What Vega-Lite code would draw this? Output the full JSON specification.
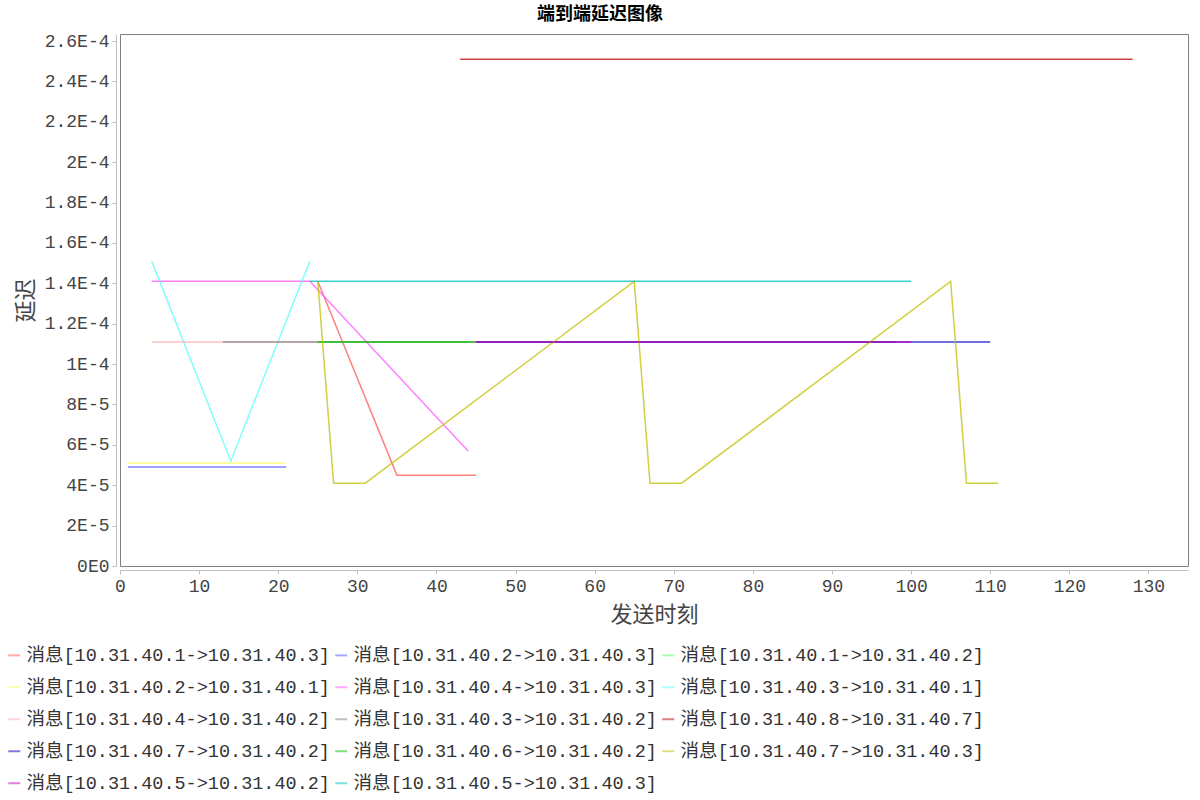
{
  "$schema": "https://vega.github.io/schema/vega-lite/v6.json",
  "autosize": {"type": "none"},
  "width": 1068,
  "height": 532,
  "padding": {"left": 120, "top": 34, "right": 12, "bottom": 234},
  "background": "white",
  "title": {
    "text": "端到端延迟图像",
    "font": "Noto Sans CJK SC",
    "fontSize": 18,
    "fontWeight": "bold",
    "color": "#000000",
    "anchor": "middle",
    "dx": -54,
    "offset": 8
  },
  "config": {
    "view": {"stroke": "#808080", "strokeWidth": 1},
    "axis": {
      "grid": false,
      "domainColor": "#c0c0c0",
      "tickColor": "#c0c0c0",
      "tickSize": 4,
      "labelFont": "Liberation Mono",
      "labelFontSize": 18,
      "labelColor": "#444444",
      "titleFont": "Noto Sans CJK SC",
      "titleFontSize": 22,
      "titleFontWeight": "normal",
      "titleColor": "#444444",
      "offset": 4
    }
  },
  "data": {
    "values": [
      {"series": "消息[10.31.40.1->10.31.40.3]", "x": 25, "y": 0.000141},
      {"series": "消息[10.31.40.1->10.31.40.3]", "x": 35, "y": 0.000045},
      {"series": "消息[10.31.40.1->10.31.40.3]", "x": 45, "y": 0.000045},
      {"series": "消息[10.31.40.2->10.31.40.3]", "x": 1, "y": 0.000049},
      {"series": "消息[10.31.40.2->10.31.40.3]", "x": 11, "y": 0.000049},
      {"series": "消息[10.31.40.2->10.31.40.3]", "x": 21, "y": 0.000049},
      {"series": "消息[10.31.40.1->10.31.40.2]", "x": 25, "y": 0.000111},
      {"series": "消息[10.31.40.1->10.31.40.2]", "x": 44, "y": 0.000111},
      {"series": "消息[10.31.40.2->10.31.40.1]", "x": 1, "y": 0.000051},
      {"series": "消息[10.31.40.2->10.31.40.1]", "x": 11, "y": 0.000051},
      {"series": "消息[10.31.40.2->10.31.40.1]", "x": 21, "y": 0.000051},
      {"series": "消息[10.31.40.4->10.31.40.3]", "x": 4, "y": 0.000141},
      {"series": "消息[10.31.40.4->10.31.40.3]", "x": 24, "y": 0.000141},
      {"series": "消息[10.31.40.4->10.31.40.3]", "x": 44, "y": 0.000057},
      {"series": "消息[10.31.40.3->10.31.40.1]", "x": 4, "y": 0.000151},
      {"series": "消息[10.31.40.3->10.31.40.1]", "x": 14, "y": 0.000052},
      {"series": "消息[10.31.40.3->10.31.40.1]", "x": 24, "y": 0.000151},
      {"series": "消息[10.31.40.4->10.31.40.2]", "x": 4, "y": 0.000111},
      {"series": "消息[10.31.40.4->10.31.40.2]", "x": 25, "y": 0.000111},
      {"series": "消息[10.31.40.3->10.31.40.2]", "x": 13, "y": 0.000111},
      {"series": "消息[10.31.40.3->10.31.40.2]", "x": 98, "y": 0.000111},
      {"series": "消息[10.31.40.8->10.31.40.7]", "x": 43, "y": 0.000251},
      {"series": "消息[10.31.40.8->10.31.40.7]", "x": 128, "y": 0.000251},
      {"series": "消息[10.31.40.7->10.31.40.2]", "x": 45, "y": 0.000111},
      {"series": "消息[10.31.40.7->10.31.40.2]", "x": 110, "y": 0.000111},
      {"series": "消息[10.31.40.6->10.31.40.2]", "x": 25, "y": 0.000111},
      {"series": "消息[10.31.40.6->10.31.40.2]", "x": 45, "y": 0.000111},
      {"series": "消息[10.31.40.7->10.31.40.3]", "x": 25, "y": 0.000141},
      {"series": "消息[10.31.40.7->10.31.40.3]", "x": 27, "y": 0.000041},
      {"series": "消息[10.31.40.7->10.31.40.3]", "x": 31, "y": 0.000041},
      {"series": "消息[10.31.40.7->10.31.40.3]", "x": 65, "y": 0.000141},
      {"series": "消息[10.31.40.7->10.31.40.3]", "x": 67, "y": 0.000041},
      {"series": "消息[10.31.40.7->10.31.40.3]", "x": 71, "y": 0.000041},
      {"series": "消息[10.31.40.7->10.31.40.3]", "x": 105, "y": 0.000141},
      {"series": "消息[10.31.40.7->10.31.40.3]", "x": 107, "y": 0.000041},
      {"series": "消息[10.31.40.7->10.31.40.3]", "x": 111, "y": 0.000041},
      {"series": "消息[10.31.40.5->10.31.40.2]", "x": 45, "y": 0.000111},
      {"series": "消息[10.31.40.5->10.31.40.2]", "x": 100, "y": 0.000111},
      {"series": "消息[10.31.40.5->10.31.40.3]", "x": 24, "y": 0.000141},
      {"series": "消息[10.31.40.5->10.31.40.3]", "x": 100, "y": 0.000141}
    ]
  },
  "mark": {"type": "line", "strokeWidth": 1.5, "opacity": 0.75},
  "encoding": {
    "x": {
      "field": "x",
      "type": "quantitative",
      "title": "发送时刻",
      "scale": {"domain": [0, 135], "nice": false},
      "axis": {
        "values": [0, 10, 20, 30, 40, 50, 60, 70, 80, 90, 100, 110, 120, 130],
        "labelFlush": false,
        "labelPadding": 3,
        "titlePadding": 9
      }
    },
    "y": {
      "field": "y",
      "type": "quantitative",
      "title": "延迟",
      "scale": {"domain": [0, 0.0002635], "nice": false},
      "axis": {
        "values": [0, 0.00002, 0.00004, 0.00006, 0.00008, 0.0001, 0.00012, 0.00014, 0.00016, 0.00018, 0.0002, 0.00022, 0.00024, 0.00026],
        "labelExpr": "datum.value == 0 ? '0E0' : (round(datum.value / pow(10, floor(log(datum.value) / LN10 + 1e-9)) * 10) / 10) + 'E' + floor(log(datum.value) / LN10 + 1e-9)",
        "labelPadding": 3,
        "titlePadding": 7
      }
    },
    "color": {
      "field": "series",
      "type": "nominal",
      "scale": {
        "domain": [
          "消息[10.31.40.1->10.31.40.3]", "消息[10.31.40.2->10.31.40.3]", "消息[10.31.40.1->10.31.40.2]",
          "消息[10.31.40.2->10.31.40.1]", "消息[10.31.40.4->10.31.40.3]", "消息[10.31.40.3->10.31.40.1]",
          "消息[10.31.40.4->10.31.40.2]", "消息[10.31.40.3->10.31.40.2]", "消息[10.31.40.8->10.31.40.7]",
          "消息[10.31.40.7->10.31.40.2]", "消息[10.31.40.6->10.31.40.2]", "消息[10.31.40.7->10.31.40.3]",
          "消息[10.31.40.5->10.31.40.2]", "消息[10.31.40.5->10.31.40.3]"
        ],
        "range": [
          "#ff5555", "#5555ff", "#55ff55",
          "#ffff55", "#ff55ff", "#55ffff",
          "#ffafaf", "#808080", "#c00000",
          "#0000c0", "#00c000", "#c0c000",
          "#c000c0", "#00c0c0"
        ]
      },
      "legend": {
        "title": null,
        "orient": "none",
        "legendX": -115,
        "legendY": 612,
        "direction": "horizontal",
        "columns": 3,
        "symbolType": "stroke",
        "symbolSize": 144,
        "symbolStrokeWidth": 2,
        "symbolOpacity": 0.5,
        "labelFont": "Liberation Mono, Noto Sans CJK SC",
        "labelFontSize": 18.5,
        "labelColor": "#333333",
        "labelLimit": 400,
        "labelOffset": 3,
        "columnPadding": 1,
        "rowPadding": 13
      }
    }
  }
}
